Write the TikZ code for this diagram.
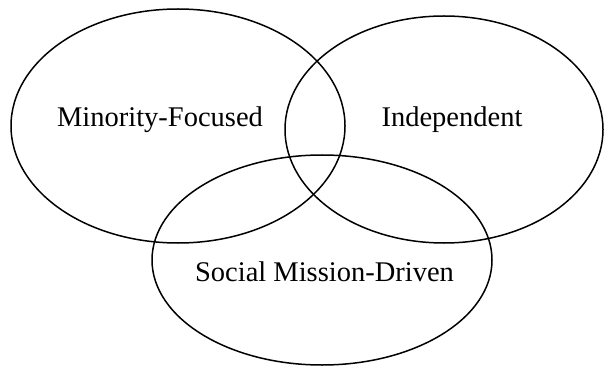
\documentclass[tikz,border=0pt]{standalone}
\usepackage{fontspec}
\setmainfont{Liberation Serif}
\usetikzlibrary{shapes.geometric}
\begin{document}
\begin{tikzpicture}[x=1pt,y=-1pt,
  setring/.style={draw=black,line width=1.5pt,ellipse,inner sep=0pt},
  setlabel/.style={anchor=base,inner sep=0pt,font=\fontsize{28.5}{30}\selectfont}]
\useasboundingbox (0,0) rectangle (607,366);
% the three overlapping sets
\node[setring,minimum width=334pt,minimum height=234pt] (minority) at (178,126) {};
\node[setring,minimum width=318pt,minimum height=227pt] (independent) at (444,129.5) {};
\node[setring,minimum width=340pt,minimum height=210pt] (social) at (322,260) {};
% set names
\node[setlabel] (minoritytext) at (160,127) {Minority-Focused};
\node[setlabel] (independenttext) at (452,127) {Independent};
\node[setlabel] (socialtext) at (324.5,281) {Social Mission-Driven};
\end{tikzpicture}
\end{document}
